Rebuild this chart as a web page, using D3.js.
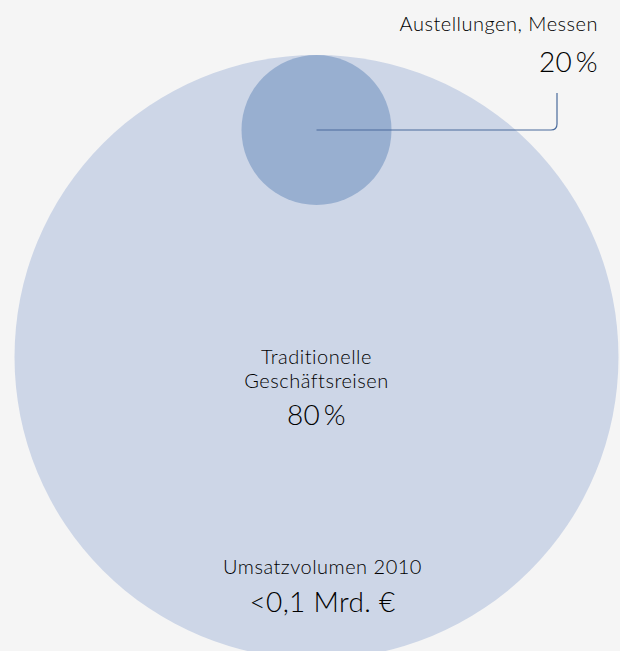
<!DOCTYPE html>
<html>
<head>
<meta charset="utf-8">
<script src="https://cdn.jsdelivr.net/npm/d3@7"></script>
<style>
  body { margin: 0; background: #f5f5f5; }
  svg text { font-family: Lato, "Open Sans", sans-serif; font-weight: 300; fill: #000; }
  svg text.small { font-size: 20px; letter-spacing: 0.5px; }
  svg text.big { font-size: 28px; letter-spacing: 0.3px; }
</style>
</head>
<body>
<div id="chart"></div>
<script>
// data
var categories = ["Traditionelle Geschäftsreisen", "Austellungen, Messen"];
var shares = [80, 20];
var totalLabel = "Umsatzvolumen 2010";
var totalValue = "<0,1 Mrd. €";

var width = 620;
var height = 651;

var svg = d3.select("#chart")
  .append("svg")
  .attr("width", width)
  .attr("height", height);

svg.append("rect")
  .attr("width", width)
  .attr("height", height)
  .attr("fill", "#f5f5f5");

// radius scale: whole market (100) -> big circle, share -> small circle
var r = d3.scaleLinear().domain([20, 100]).range([75, 302]);

var cx = 316.5;
var cy = 357;
var bigR = r(100);
var smallR = r(shares[1]);
var smallCy = cy - bigR + smallR;  // touches the big circle at the top

// big circle
svg.append("circle")
  .attr("cx", cx)
  .attr("cy", cy)
  .attr("r", bigR)
  .attr("fill", "#cdd6e7");

// small circle
svg.append("circle")
  .attr("cx", cx)
  .attr("cy", smallCy)
  .attr("r", smallR)
  .attr("fill", "#98afd0");

// connector line to the label
var lineX = 557;
var corner = 6;
var topY = 93;
var p = d3.path();
p.moveTo(cx, smallCy);
p.lineTo(lineX - corner, smallCy);
p.quadraticCurveTo(lineX, smallCy, lineX, smallCy - corner);
p.lineTo(lineX, topY);
svg.append("path")
  .attr("d", p.toString())
  .attr("fill", "none")
  .attr("stroke", "#4a6b9c")
  .attr("stroke-width", 1.2);

// small circle label
svg.append("text")
  .attr("class", "small")
  .attr("x", 598)
  .attr("y", 31)
  .attr("text-anchor", "end")
  .text(categories[1]);

svg.append("text")
  .attr("class", "big")
  .attr("x", 598)
  .attr("y", 72)
  .attr("text-anchor", "end")
  .text(shares[1] + "\u2009%");

// big circle label
var words = categories[0].split(" ");
svg.append("text")
  .attr("class", "small")
  .attr("x", cx)
  .attr("y", 364)
  .attr("text-anchor", "middle")
  .text(words[0]);

svg.append("text")
  .attr("class", "small")
  .attr("x", cx)
  .attr("y", 388)
  .attr("text-anchor", "middle")
  .text(words[1]);

svg.append("text")
  .attr("class", "big")
  .attr("x", cx)
  .attr("y", 425)
  .attr("text-anchor", "middle")
  .text(shares[0] + "\u2009%");

// total
svg.append("text")
  .attr("class", "small")
  .attr("x", cx + 6)
  .attr("y", 574)
  .attr("text-anchor", "middle")
  .text(totalLabel);

svg.append("text")
  .attr("class", "big")
  .attr("x", cx + 6)
  .attr("y", 612)
  .attr("text-anchor", "middle")
  .text(totalValue);
</script>
</body>
</html>
